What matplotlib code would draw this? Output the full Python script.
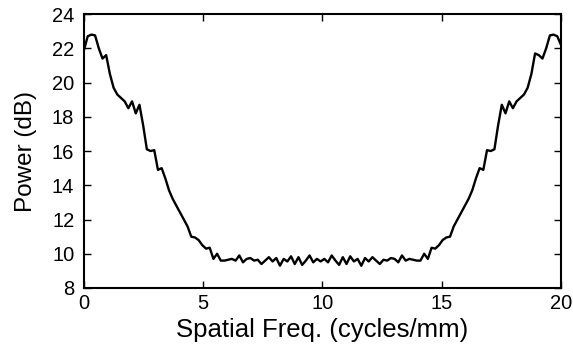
import numpy as np
import matplotlib
matplotlib.use('Agg')
import matplotlib.pyplot as plt

# left half (0 .. 10 cycles/mm)
power_left = [21.9, 22.7, 22.8, 22.75, 22.0, 21.4, 21.6, 20.5, 19.7, 19.3,
              19.1, 18.9, 18.5, 18.9, 18.2, 18.7, 17.5, 16.1, 16.0, 16.05,
              14.9, 15.0, 14.4, 13.7, 13.2, 12.8, 12.4, 12.0, 11.6, 11.0,
              10.95, 10.8, 10.5, 10.3, 10.35, 9.7, 10.0, 9.6, 9.6, 9.65,
              9.7, 9.6, 9.9, 9.5, 9.7, 9.75, 9.6, 9.65, 9.4, 9.6,
              9.8, 9.55, 9.75, 9.3, 9.7, 9.55, 9.85, 9.4, 9.8, 9.35,
              9.6, 9.9, 9.5, 9.7, 9.55]
# right half (10 .. 20 cycles/mm)
power_right = [9.7, 9.5, 9.9, 9.6, 9.35, 9.8, 9.4, 9.85, 9.55, 9.7,
               9.3, 9.75, 9.55, 9.8, 9.6, 9.4, 9.65, 9.6, 9.75, 9.7,
               9.5, 9.9, 9.6, 9.7, 9.65, 9.6, 9.6, 10.0, 9.7, 10.35,
               10.3, 10.5, 10.8, 10.95, 11.0, 11.6, 12.0, 12.4, 12.8, 13.2,
               13.7, 14.4, 15.0, 14.9, 16.05, 16.0, 16.1, 17.5, 18.7, 18.2,
               18.9, 18.5, 18.9, 19.1, 19.3, 19.7, 20.5, 21.7, 21.6, 21.4,
               22.0, 22.75, 22.8, 22.7, 22.2]
power = power_left + power_right

# sample frequencies over 0..20 cycles/mm
freq = np.linspace(0, 20, len(power))

xticks = [0, 5, 10, 15, 20]
yticks = [8, 10, 12, 14, 16, 18, 20, 22, 24]

plt.rcParams['font.family'] = ['Liberation Sans', 'DejaVu Sans']

fig = plt.figure(figsize=(5.73, 3.51), dpi=100)
ax = fig.add_axes([0.1466, 0.1795, 0.8324, 0.7805])
ax.plot(freq, power, color='black', linewidth=1.7)

ax.set_xlim(0, 20)
ax.set_ylim(8, 24)
ax.set_xticks(xticks)
ax.set_yticks(yticks)
ax.tick_params(direction='in', length=5, width=1, top=True, right=True,
               labelsize=14.5)
ax.tick_params(axis='x', pad=4)
ax.tick_params(axis='y', pad=7)
for s in ax.spines.values():
    s.set_linewidth(1.5)
ax.set_xlabel('Spatial Freq. (cycles/mm)', fontsize=18.5, labelpad=4)
ax.set_ylabel('Power (dB)', fontsize=17.5, labelpad=11)

fig.savefig('out.png', dpi=100)
